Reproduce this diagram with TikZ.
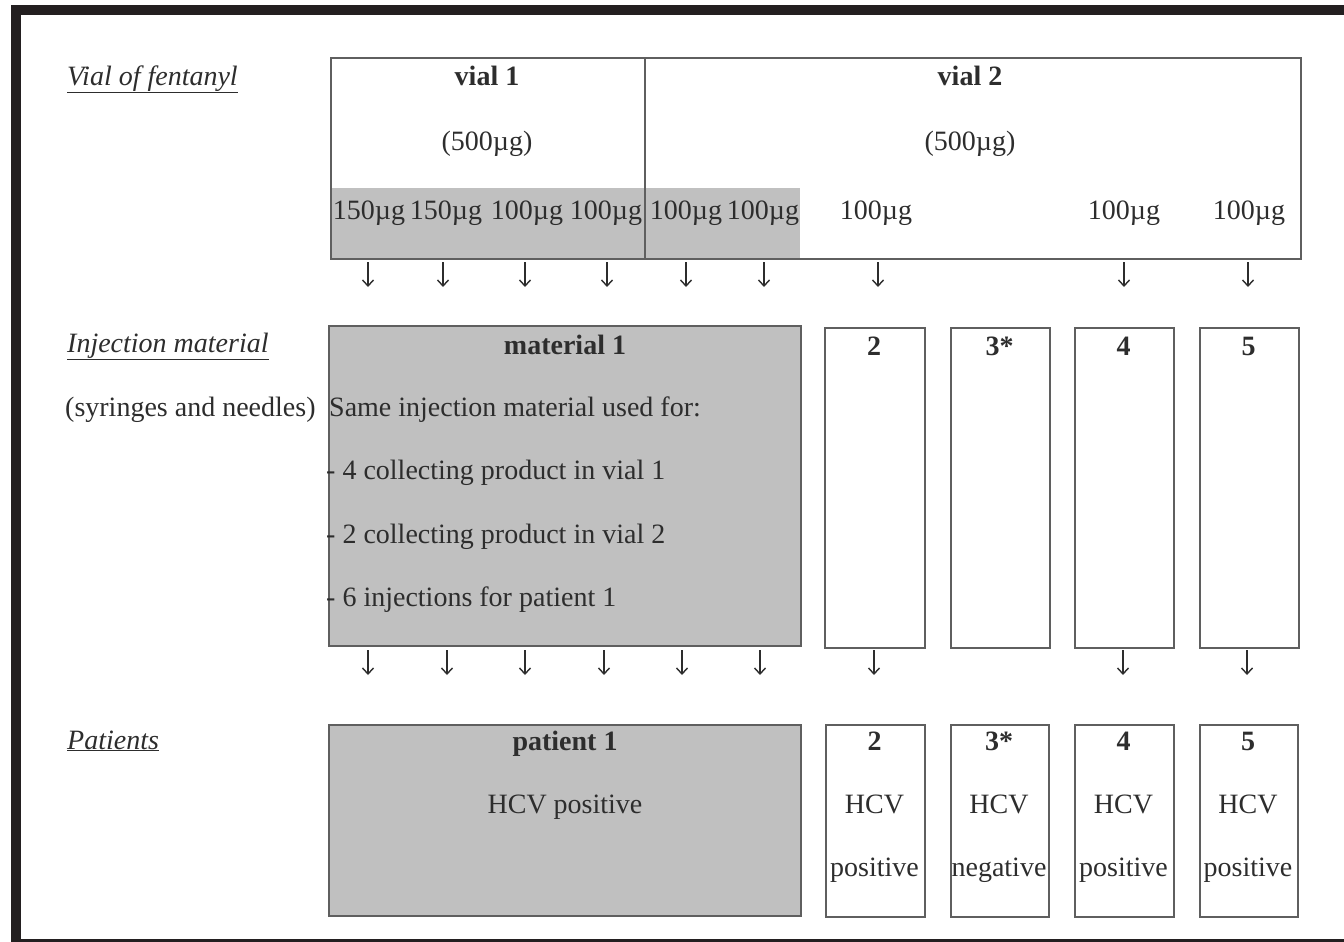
\documentclass[tikz,border=0pt]{standalone}
\usepackage{fontspec}
\setmainfont{Liberation Serif}
\usetikzlibrary{arrows.meta,calc}
\definecolor{ink}{RGB}{45,45,45}
\definecolor{framec}{RGB}{35,31,32}
\definecolor{greyfill}{RGB}{192,192,192}
\definecolor{edge}{RGB}{95,95,95}
\tikzset{
  txt/.style={font=\fontsize{28}{34}\selectfont, text=ink, inner sep=0pt, anchor=base},
  bold/.style={txt, font=\fontsize{28}{34}\selectfont\bfseries},
  side/.style={txt, anchor=base west},
  boxb/.style={draw=edge, line width=1.8pt, inner sep=0pt, anchor=north west},
  greybox/.style={boxb, fill=greyfill},
  flow/.style={draw=ink, line width=1.4pt, -{Straight Barb[length=6pt,width=11pt,line width=1.4pt]}},
}
\newcommand{\heading}[1]{\underline{\textit{#1}}}
\begin{document}
\begin{tikzpicture}[x=1pt,y=-1pt]
\useasboundingbox (0,0) rectangle (1344,942);
% outer frame
\fill[framec] (11,5) rectangle (1344,15);
\fill[framec] (11,5) rectangle (21,942);
\fill[framec] (11,939) rectangle (1344,942);

% row headings
\node[side] (hvial) at (67,85) {\heading{Vial of fentanyl}};
\node[side] (hinj) at (67,352) {\heading{Injection material}};
\node[side] (hsyr) at (65,416) {(syringes and needles)};
\node[side] (hpat) at (67,749) {\heading{Patients}};

% vials
\fill[greyfill] (330,188) rectangle (800,258);
\node[boxb, minimum width=314pt, minimum height=201pt] (vial1) at (330,57) {};
\node[boxb, minimum width=656pt, minimum height=201pt] (vial2) at (644,57) {};
\node[bold] (v1t) at (487,85) {vial 1};
\node[txt] (v1q) at (487,150) {(500µg)};
\node[bold] (v2t) at (970,85) {vial 2};
\node[txt] (v2q) at (970,150) {(500µg)};

\foreach \n/\x/\q in {1/369/150,2/446/150,3/527/100,4/606/100,5/686/100,6/763/100,7/876/100,8/1124/100,9/1249/100}
  \node[txt] (d\n) at (\x,219) {\q µg};

% arrows from vials to injection material
\foreach \n/\x in {1/368,2/443,3/525,4/607,5/686,6/764,7/878,8/1124,9/1248}{
  \coordinate (ds\n) at (\x,262);
  \coordinate (de\n) at (\x,287);
  \draw[flow] (ds\n) -- (de\n);
}

% injection material
\node[greybox, minimum width=472pt, minimum height=320pt] (mat1) at (328,325) {};
\node[bold] (m1t) at (565,354) {material 1};
\node[side] (m1a) at (329,416) {Same injection material used for:};
\node[side] (m1b) at (326,479) {- 4 collecting product in vial 1};
\node[side] (m1c) at (326,543) {- 2 collecting product in vial 2};
\node[side] (m1d) at (326,606) {- 6 injections for patient 1};

\foreach \n/\x/\w/\l in {2/824/100/2,3/950/99/3*,4/1074/99/4,5/1199/99/5}{
  \node[boxb, minimum width=\w pt, minimum height=320pt] (mat\n) at (\x,327) {};
  \node[bold] (mt\n) at ($(\x,355)+(\w/2,0)$) {\l};
}

% arrows from injection material to patients
\foreach \n/\x in {1/368,2/447,3/525,4/604,5/682,6/760,7/874,8/1123,9/1247}{
  \coordinate (ms\n) at (\x,650);
  \coordinate (me\n) at (\x,675);
  \draw[flow] (ms\n) -- (me\n);
}

% patients
\node[greybox, minimum width=472pt, minimum height=191pt] (pat1) at (328,724) {};
\node[bold] (p1t) at (565,750) {patient 1};
\node[txt] (p1s) at (565,813) {HCV positive};

\foreach \n/\x/\w/\l/\r in {2/825/99/2/positive,3/950/98/3*/negative,4/1074/99/4/positive,5/1199/98/5/positive}{
  \node[boxb, minimum width=\w pt, minimum height=192pt] (pat\n) at (\x,724) {};
  \node[bold] (pt\n) at ($(\x,750)+(\w/2,0)$) {\l};
  \node[txt] (ph\n) at ($(\x,813)+(\w/2,0)$) {HCV};
  \node[txt] (pr\n) at ($(\x,876)+(\w/2,0)$) {\r};
}
\end{tikzpicture}
\end{document}
